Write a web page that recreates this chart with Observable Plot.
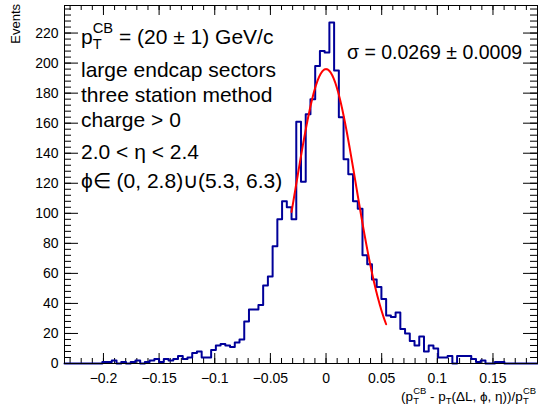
<!DOCTYPE html>
<html>
<head>
<meta charset="utf-8">
<script src="https://cdn.jsdelivr.net/npm/d3@7"></script>
<script src="https://cdn.jsdelivr.net/npm/@observablehq/plot@0.6"></script>
<style>
  html, body { margin: 0; padding: 0; background: #fff; }
  svg { display: block; }
</style>
</head>
<body>
<div id="chart"></div>
<script>
// ---- data ----
const binLow = -0.235;
const binHigh = 0.19;
const nBins = 100;
const counts = [
  0, 0, 0, 0, 0, 0, 0, 0, 1, 1,
  2, 0, 1, 0, 1, 2, 0, 1, 2, 3,
  1, 3, 2, 3, 5, 3, 4, 7, 8, 4,
  4, 9, 12, 13, 12, 11, 14, 16, 28, 36,
  36, 39, 52, 58, 78, 96, 108, 104, 96, 161,
  121, 166, 176, 198, 208, 207, 227, 195, 164, 136,
  126, 108, 103, 72, 66, 56, 51, 43, 32, 31,
  34, 23, 20, 15, 12, 18, 8, 12, 10, 4,
  4, 5, 0, 5, 5, 5, 3, 1, 2, 0,
  0, 1, 1, 0, 0, 0, 0, 0, 0, 0
];
// Gaussian fit parameters shown on the chart
const fitAmplitude = 196;
const fitMean = 0.0;
const fitSigma = 0.0269;
const fitRange = [-0.031, 0.054];

const xTickValues = [-0.2, -0.15, -0.1, -0.05, 0, 0.05, 0.1, 0.15];
const yTickValues = [0, 20, 40, 60, 80, 100, 120, 140, 160, 180, 200, 220];
const yMax = 238.35;

const infoLines = [
  null, // first line is the rich p_T^CB line
  "large endcap sectors",
  "three station method",
  "charge > 0",
  "2.0 < η < 2.4",
  "ϕ∈ (0, 2.8)∪(5.3, 6.3)"
];
const sigmaText = "σ = 0.0269 ± 0.0009";

// ---- derived tables ----
const binWidth = (binHigh - binLow) / nBins;
const stepPoints = counts.map((c, i) => ({x: binLow + i * binWidth, y: c}));
stepPoints.push({x: binHigh, y: counts[counts.length - 1]});

const fitPoints = d3.range(0, 201).map(i => {
  const x = fitRange[0] + (fitRange[1] - fitRange[0]) * i / 200;
  return {x, y: fitAmplitude * Math.exp(-0.5 * ((x - fitMean) / fitSigma) ** 2)};
});

const xMinor = d3.range(-23, 19).map(k => k / 100);
const yMinor = d3.range(0, 240, 4);

// ---- layout ----
const W = 538, H = 415;
const mL = 64, mR = 1, mT = 5, mB = 52;
const frameW = W - mL - mR, frameH = H - mT - mB;
const font = "'Liberation Sans', Arial, Helvetica, sans-serif";

const fmt = d => d === 0 ? "0" : (d < 0 ? "\u2212" : "") + String(+Math.abs(d).toFixed(2));

const plot = Plot.plot({
  width: W,
  height: H,
  marginLeft: mL,
  marginRight: mR,
  marginTop: mT,
  marginBottom: mB,
  style: {fontFamily: font, fontSize: "14px", background: "white", color: "black"},
  x: {domain: [binLow, binHigh], ticks: xTickValues, tickSize: 0, tickPadding: 10, tickFormat: fmt, label: null},
  y: {domain: [0, yMax], ticks: yTickValues, tickSize: 0, tickPadding: 6, label: null},
  marks: [
    Plot.ruleX(xMinor, {x: d => d, insetTop: frameH - 5, stroke: "black"}),
    Plot.ruleX(xTickValues, {x: d => d, insetTop: frameH - 10, stroke: "black"}),
    Plot.ruleX(xMinor, {x: d => d, insetBottom: frameH - 5, stroke: "black"}),
    Plot.ruleX(xTickValues, {x: d => d, insetBottom: frameH - 10, stroke: "black"}),
    Plot.ruleY(yMinor, {y: d => d, insetRight: frameW - 7, stroke: "black"}),
    Plot.ruleY(yTickValues, {y: d => d, insetRight: frameW - 14, stroke: "black"}),
    Plot.ruleY(yMinor, {y: d => d, insetLeft: frameW - 7, stroke: "black"}),
    Plot.ruleY(yTickValues, {y: d => d, insetLeft: frameW - 14, stroke: "black"}),
    Plot.line(stepPoints, {x: "x", y: "y", curve: "step-after", stroke: "#000099", strokeWidth: 2}),
    Plot.line(fitPoints, {x: "x", y: "y", stroke: "#ff0000", strokeWidth: 2}),
    Plot.frame({stroke: "black", strokeWidth: 1})
  ]
});

document.getElementById("chart").appendChild(plot);
const svg = d3.select(plot);

function rich(pieces, {x, y, size, anchor = "start"}) {
  const g = svg.append("g").attr("text-anchor", "start");
  let cursor = 0, prevStart = 0;
  for (const p of pieces) {
    const fs = size * (p.scale || 1);
    const t = g.append("text")
      .attr("font-family", font)
      .attr("font-size", fs)
      .attr("fill", "black")
      .attr("text-anchor", "start")
      .style("white-space", "pre")
      .attr("y", y + (p.shift || 0) * size)
      .attr("dy", "0.35em")
      .text(p.text);
    const w = t.node().getComputedTextLength();
    if (p.stack) {
      t.attr("x", prevStart);
      cursor = Math.max(cursor, prevStart + w);
    } else {
      t.attr("x", cursor);
      prevStart = cursor;
      cursor += w;
    }
  }
  const off = anchor === "end" ? x - cursor : x;
  g.attr("transform", `translate(${off},0)`);
}

const sup = t => ({text: t, scale: 0.7, shift: -0.42});
const sub = t => ({text: t, scale: 0.7, shift: 0.32, stack: true});
const subOnly = t => ({text: t, scale: 0.7, shift: 0.32});

const infoX = 81;
const infoY = [37, 70, 95, 120, 152, 181];
const infoSize = 21;
rich([{text: "p"}, sup("CB"), sub("T"), {text: " = (20 ± 1) GeV/c"}], {x: infoX, y: infoY[0], size: infoSize});
infoLines.forEach((line, i) => {
  if (line) rich([{text: line}], {x: infoX, y: infoY[i], size: infoSize});
});

rich([{text: sigmaText}], {x: 347, y: 52, size: 19.5});

rich([
  {text: "(p"}, sup("CB"), sub("T"),
  {text: " - p"}, subOnly("T"),
  {text: "(ΔL, ϕ, η))/p"}, sup("CB"), sub("T")
], {x: 536, y: 396, size: 13.5, anchor: "end"});

svg.append("text")
  .attr("font-family", font)
  .attr("font-size", 13)
  .attr("text-anchor", "end")
  .attr("dy", "0.35em")
  .attr("transform", "translate(15,4) rotate(-90)")
  .text("Events");
</script>
</body>
</html>
